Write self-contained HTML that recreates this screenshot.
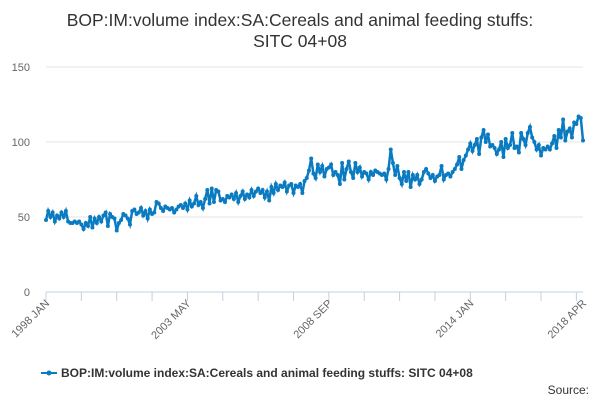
<!DOCTYPE html>
<html><head><meta charset="utf-8"><style>
body{margin:0;background:#fff;font-family:"Liberation Sans",sans-serif}
</style></head><body>
<svg id="chart" width="600" height="400" xmlns="http://www.w3.org/2000/svg" style="font-family:'Liberation Sans',sans-serif">
<text x="300" y="26" text-anchor="middle" font-size="17.5" fill="#333">BOP:IM:volume index:SA:Cereals and animal feeding stuffs:</text>
<text x="300" y="47" text-anchor="middle" font-size="17.5" fill="#333">SITC 04+08</text>
<g id="grid"></g><g id="xaxis"></g><g id="series"></g>
<g>
<line x1="41" y1="373" x2="57" y2="373" stroke="#0a7bc1" stroke-width="2"/>
<circle cx="49" cy="373" r="2.5" fill="#0a7bc1"/>
<text x="61" y="377" font-size="12" font-weight="bold" fill="#333">BOP:IM:volume index:SA:Cereals and animal feeding stuffs: SITC 04+08</text>
</g>
<text x="589" y="394" text-anchor="end" font-size="12" fill="#333">Source:</text>
</svg>
<script>
const yTicks=[0,50,100,150];
const xTickLabels=["1998 JAN","2003 MAY","2008 SEP","2014 JAN","2018 APR"];
const xTickIndex=[0,64,128,192,243];
const values=[
48,54,50,53,47,51,49,53,50,54,47,46,
46,47,46,47,45,42,46,44,50,43,49,46,
50,47,51,53,44,52,50,49,41,46,48,52,
51,49,45,54,55,52,53,56,51,54,49,55,
52,53,60,59,56,54,57,56,55,56,53,55,
57,58,56,59,55,61,57,59,64,58,60,56,
62,68,59,69,60,68,67,61,62,60,64,63,
65,62,66,60,64,67,62,65,63,68,64,67,
69,66,68,63,67,61,70,66,72,68,71,70,
73,67,71,72,66,71,70,72,66,74,76,81,
89,79,76,85,80,84,77,82,83,85,78,80,
78,72,86,75,82,87,80,76,86,80,83,77,
80,79,75,80,78,81,80,79,78,79,75,82,
95,86,78,84,76,72,80,74,80,70,78,75,
78,72,75,80,82,79,76,78,74,77,78,84,
75,78,79,77,80,82,85,90,82,88,91,95,
99,94,98,102,92,103,108,100,105,97,98,96,
92,95,100,90,102,96,98,106,96,97,93,106,
102,98,106,110,103,100,95,98,91,96,95,97,
95,99,104,96,108,103,115,101,107,109,103,113,
112,117,116,101];
const NS="http://www.w3.org/2000/svg";
const x0=46,x1=583,y0=292,y1=67;
const xs=i=>x0+(x1-x0)*i/(values.length-1);
const ys=v=>y0-(y0-y1)*v/150;
const grid=document.getElementById('grid');
yTicks.forEach(t=>{
 const l=document.createElementNS(NS,'line');
 
 
 l.setAttribute('x1',x0);l.setAttribute('x2',x1);l.setAttribute('y1',ys(t));l.setAttribute('y2',ys(t));
 l.setAttribute('stroke',t===0?'#c0d0e0':'#e6e6e6');
 grid.appendChild(l);
 const tx=document.createElementNS(NS,'text');
 
 
 tx.setAttribute('x',30);tx.setAttribute('y',ys(t)+4);tx.setAttribute('text-anchor','end');
 tx.setAttribute('font-size','11');tx.setAttribute('fill','#666');tx.textContent=t;
 grid.appendChild(tx);
});
const xa=document.getElementById('xaxis');
for(let i=0;i<values.length;i+=16){
 const l=document.createElementNS(NS,'line');
 
 
 l.setAttribute('x1',xs(i));l.setAttribute('x2',xs(i));l.setAttribute('y1',y0);l.setAttribute('y2',y0+9);
 l.setAttribute('stroke','#c0d0e0');xa.appendChild(l);
}
xTickIndex.forEach((idx,k)=>{
 const x=xs(idx);
 const tx=document.createElementNS(NS,'text');
 
 
 tx.setAttribute('transform','translate('+(x+4)+','+(y0+12)+') rotate(-45)');
 tx.setAttribute('text-anchor','end');tx.setAttribute('font-size','11');tx.setAttribute('fill','#666');
 tx.textContent=xTickLabels[k];xa.appendChild(tx);
});
const s=document.getElementById('series');
const p=document.createElementNS(NS,'path');


p.setAttribute('d',values.map((v,i)=>(i?'L':'M')+xs(i).toFixed(2)+','+ys(v).toFixed(2)).join(''));
p.setAttribute('fill','none');p.setAttribute('stroke','#0a7bc1');p.setAttribute('stroke-width','2.5');
s.appendChild(p);
values.forEach((v,i)=>{
 const c=document.createElementNS(NS,'circle');
 
 
 c.setAttribute('cx',xs(i));c.setAttribute('cy',ys(v));c.setAttribute('r','2');c.setAttribute('fill','#0a7bc1');
 s.appendChild(c);
});
</script>
</body></html>
